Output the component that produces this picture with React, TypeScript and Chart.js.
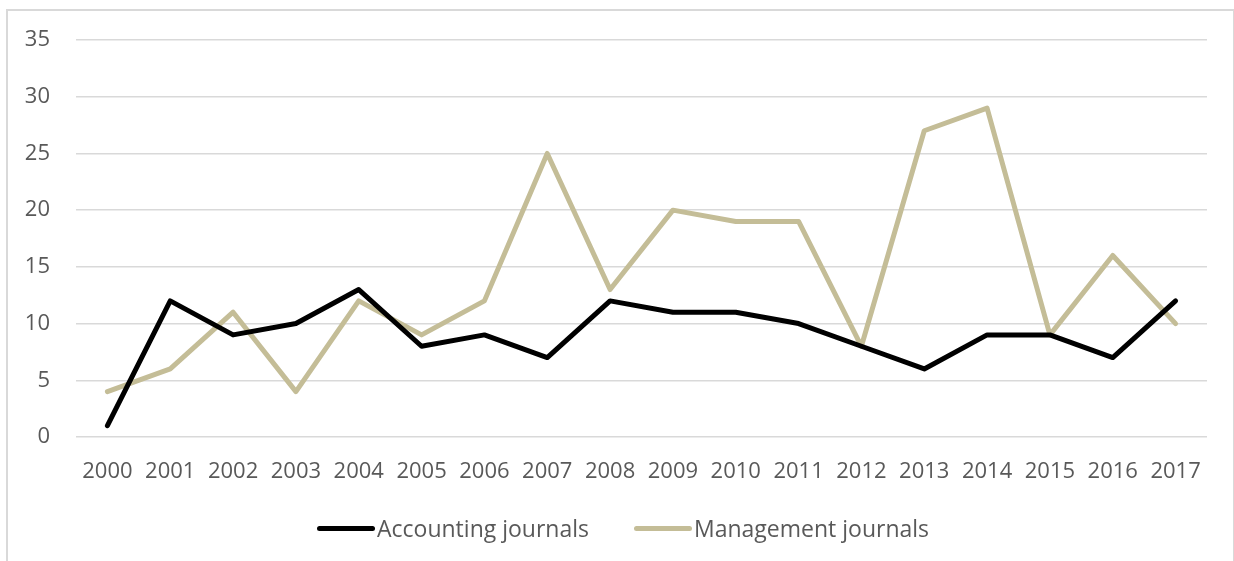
import React, { useEffect, useRef } from "react";
import { Chart, registerables } from "chart.js";

Chart.register(...registerables);

const years = ["2000","2001","2002","2003","2004","2005","2006","2007","2008","2009","2010","2011","2012","2013","2014","2015","2016","2017"];
const accounting = [1, 12, 9, 10, 13, 8, 9, 7, 12, 11, 11, 10, 8, 6, 9, 9, 7, 12];
const management = [4, 6, 11, 4, 12, 9, 12, 25, 13, 20, 19, 19, 8, 27, 29, 9, 16, 10];
const seriesNames = ["Accounting journals", "Management journals"];
const seriesColors = ["#000000", "#c4bd97"];

const FONT = "'Open Sans', sans-serif";
const TEXT = "#595959";

export default function App() {
  const ref = useRef<HTMLCanvasElement | null>(null);
  useEffect(() => {
    document.body.style.margin = "0";
    document.body.style.overflow = "hidden";
    const chart = new Chart(ref.current!, {
      type: "line",
      data: {
        labels: years,
        datasets: [
          { label: seriesNames[0], data: accounting, borderColor: seriesColors[0], backgroundColor: seriesColors[0], borderWidth: 5, pointRadius: 0, borderCapStyle: "round", borderJoinStyle: "round", tension: 0 },
          { label: seriesNames[1], data: management, borderColor: seriesColors[1], backgroundColor: seriesColors[1], borderWidth: 5, pointRadius: 0, borderCapStyle: "round", borderJoinStyle: "round", tension: 0 },
        ],
      },
      options: {
        responsive: false,
        animation: false,
        layout: { padding: { top: 40, right: 27, bottom: 64, left: 0 } },
        plugins: {
          tooltip: { enabled: false },
          legend: { display: false },
        },
        scales: {
          x: {
            offset: true,
            grid: { display: false, drawTicks: false },
            border: { display: false },
            ticks: { font: { family: FONT, size: 22 }, color: TEXT, padding: 22, maxRotation: 0, autoSkip: false },
            afterFit: (s: any) => { s.height = 60; },
          },
          y: {
            min: 0,
            max: 35,
            ticks: { stepSize: 5, font: { family: FONT, size: 22 }, color: TEXT, padding: 26 },
            grid: { color: "#d9d9d9", lineWidth: 1.5, drawTicks: false },
            border: { display: false },
            afterFit: (s: any) => { s.width = 76; },
          },
        },
      },
    });
    return () => chart.destroy();
  }, []);
  const legendItem = (i: number, gapAfter: number) => (
    <div key={i} style={{ display: "flex", alignItems: "center", marginRight: gapAfter }}>
      <span style={{ display: "inline-block", width: 58, height: 5, borderRadius: 3, background: seriesColors[i], marginRight: 2 }} />
      <span style={{ fontFamily: FONT, fontSize: 23, color: TEXT, whiteSpace: "nowrap", lineHeight: "30px" }}>{seriesNames[i]}</span>
    </div>
  );
  return (
    <div style={{ position: "fixed", left: 0, top: 0, width: 1234, height: 561, overflow: "hidden", background: "#fff" }}>
      <div style={{ position: "absolute", left: 6, top: 9, width: 1229, height: 600, border: "2px solid #d9d9d9", boxSizing: "border-box" }} />
      <canvas ref={ref} width={1234} height={561} style={{ position: "absolute", left: 0, top: 0, width: 1234, height: 561 }} />
      <div style={{ position: "absolute", left: 317, top: 512, height: 32, display: "flex", alignItems: "center" }}>
        {legendItem(0, 45)}
        {legendItem(1, 0)}
      </div>
    </div>
  );
}
